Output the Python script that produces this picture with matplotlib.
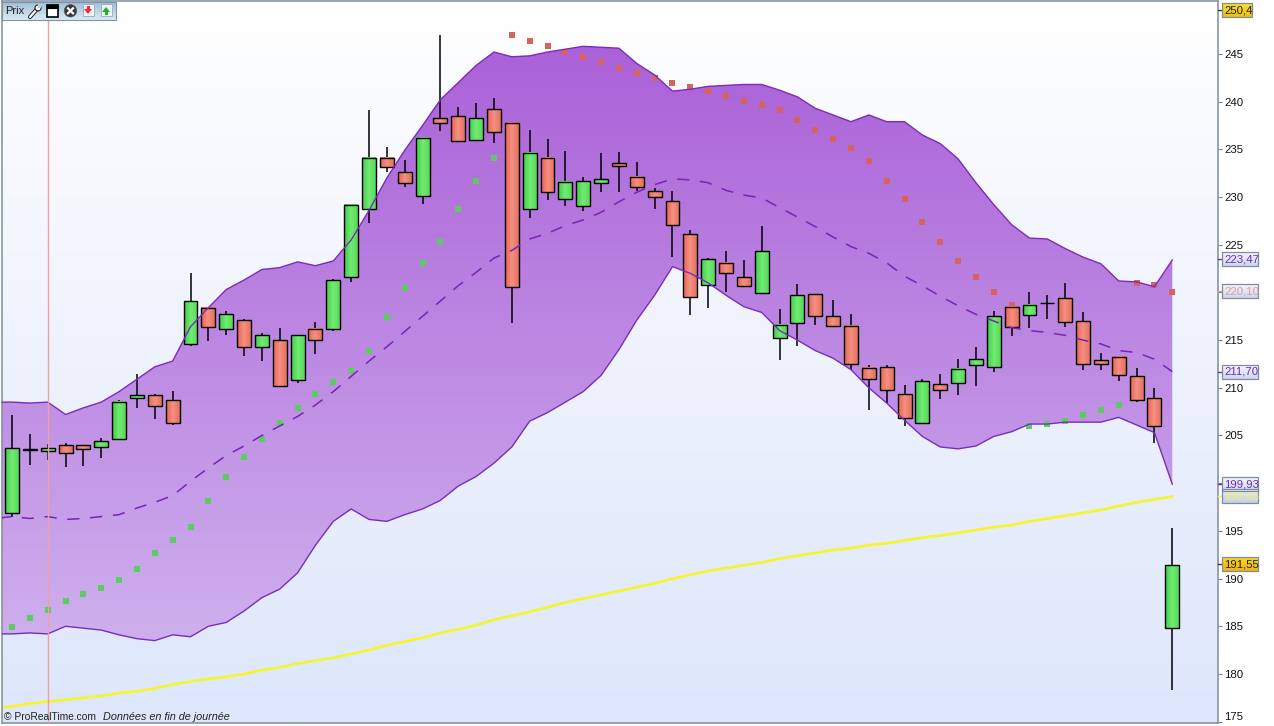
import numpy as np
import matplotlib
matplotlib.use("Agg")
import matplotlib.pyplot as plt
from matplotlib.colors import LinearSegmentedColormap
from matplotlib.patches import Rectangle, Circle, Polygon

plt.rcParams['font.family'] = ['Liberation Sans', 'DejaVu Sans']

# candles, one entry per session
opens = [196.9, 203.5, 203.4, 204.0, 204.0, 203.8, 204.6, 208.9, 209.2, 208.7, 214.6,
         218.4, 216.2, 217.1, 214.3, 215.0, 210.8, 216.2, 216.2, 221.6, 228.7, 234.1,
         232.6, 230.1, 238.3, 238.5, 236.0, 239.2, 237.8, 228.7, 234.1, 229.8, 229.1,
         231.5, 233.6, 232.1, 230.6, 229.6, 226.1, 220.8, 223.1, 221.6, 219.9, 215.2,
         216.8, 219.8, 217.5, 216.5, 212.1, 212.2, 209.3, 206.3, 210.4, 210.5, 212.4,
         212.2, 218.5, 217.6, 218.9, 219.4, 217.0, 212.9, 213.2, 211.2, 208.9, 184.8]
highs = [207.2, 205.2, 204.1, 204.2, 204.0, 204.7, 208.7, 211.4, 209.4, 209.7, 222.0,
         218.4, 218.1, 217.2, 215.7, 216.3, 215.5, 216.9, 221.4, 229.3, 239.1, 235.2,
         233.9, 236.3, 247.0, 239.4, 239.9, 240.4, 237.9, 237.0, 236.1, 234.8, 232.1,
         234.6, 234.7, 233.7, 230.9, 230.6, 226.5, 223.6, 224.3, 223.4, 227.0, 218.3,
         220.9, 219.8, 219.2, 217.7, 212.4, 212.4, 210.3, 210.9, 211.4, 213.0, 214.3,
         218.0, 218.5, 220.0, 219.7, 221.0, 217.9, 213.6, 213.2, 212.1, 210.0, 195.3]
lows = [196.5, 201.9, 202.4, 201.7, 201.8, 202.6, 204.6, 207.9, 206.7, 206.1, 214.4,
        214.9, 215.5, 213.3, 212.8, 210.2, 210.5, 213.5, 216.0, 221.1, 227.3, 232.6,
        231.0, 229.3, 236.9, 235.9, 235.9, 235.7, 216.8, 227.8, 229.7, 229.1, 228.5,
        230.5, 230.5, 230.6, 228.7, 223.7, 217.6, 218.4, 220.0, 220.6, 219.9, 212.9,
        214.4, 216.6, 216.4, 211.9, 207.7, 208.4, 206.0, 206.2, 208.8, 209.2, 210.2,
        211.7, 215.4, 216.3, 217.2, 216.4, 211.9, 211.9, 210.7, 208.5, 204.2, 178.3]
closes = [203.7, 203.6, 203.7, 203.2, 203.6, 204.4, 208.5, 209.2, 208.1, 206.3, 219.1,
          216.4, 217.7, 214.3, 215.5, 210.2, 215.5, 215.0, 221.3, 229.2, 234.1, 233.1,
          231.5, 236.2, 237.8, 235.9, 238.3, 236.8, 220.6, 234.6, 230.5, 231.6, 231.7,
          231.9, 233.3, 231.0, 230.0, 227.1, 219.5, 223.5, 222.0, 220.7, 224.3, 216.6,
          219.7, 217.5, 216.5, 212.5, 210.9, 209.8, 206.8, 210.7, 209.8, 212.0, 213.0,
          217.5, 216.4, 218.7, 218.9, 216.9, 212.5, 212.5, 211.3, 208.7, 206.0, 191.4]

# indicators start one session before the first candle
boll_upper = [208.5, 208.5, 208.4, 208.5, 207.2, 207.9, 208.5, 209.6, 210.9, 212.2, 212.8,
              216.4, 218.4, 220.3, 221.3, 222.4, 222.6, 223.2, 222.8, 223.3, 225.5, 228.6,
              232.0, 234.9, 237.5, 240.2, 242.0, 243.8, 245.2, 244.7, 244.8, 245.2, 245.5,
              245.8, 245.7, 245.6, 244.0, 242.8, 241.1, 241.3, 241.6, 241.7, 241.8, 241.8,
              241.2, 240.5, 239.3, 238.6, 237.9, 238.6, 237.9, 237.9, 236.5, 235.6, 234.0,
              231.5, 229.2, 227.1, 225.7, 225.6, 224.6, 223.7, 223.0, 221.2, 221.1, 220.6, 223.4]
boll_lower = [184.2, 184.2, 184.3, 184.2, 185.0, 184.8, 184.6, 184.1, 183.7, 183.5, 184.1,
              183.9, 185.0, 185.4, 186.6, 188.0, 188.9, 190.6, 193.5, 196.0, 197.3, 196.2,
              196.0, 196.7, 197.3, 198.2, 199.7, 200.7, 202.1, 203.8, 206.5, 207.4, 208.5,
              209.6, 211.3, 214.0, 217.1, 219.7, 222.7, 222.0, 221.0, 219.7, 218.5, 217.9,
              216.0, 215.0, 213.9, 213.1, 211.9, 210.0, 208.4, 206.6, 204.9, 203.8, 203.6,
              203.9, 204.9, 205.4, 206.2, 206.2, 206.4, 206.4, 206.4, 206.9, 206.1, 205.3, 199.9]
boll_mid = [196.3, 196.5, 196.3, 196.5, 196.2, 196.3, 196.5, 196.7, 197.4, 198.0, 198.7,
            200.2, 201.6, 202.9, 203.9, 205.0, 206.0, 207.0, 208.2, 209.6, 211.2, 212.8,
            214.3, 215.9, 217.5, 219.1, 220.7, 222.1, 223.6, 224.4, 225.6, 226.2, 227.0,
            227.6, 228.4, 229.5, 230.5, 231.3, 231.9, 231.8, 231.5, 230.7, 230.2, 229.9,
            228.9, 227.9, 226.9, 225.8, 224.8, 224.1, 223.1, 221.7, 220.7, 219.6, 218.6,
            217.7, 217.0, 216.3, 216.0, 215.8, 215.5, 215.0, 214.6, 213.9, 213.7, 213.0, 211.7]
ma_long = [176.4, 176.6, 176.9, 177.1, 177.3, 177.5, 177.7, 178.0, 178.2, 178.5, 178.9,
           179.2, 179.5, 179.7, 180.0, 180.4, 180.7, 181.1, 181.4, 181.7, 182.1, 182.5,
           183.0, 183.4, 183.8, 184.3, 184.7, 185.1, 185.7, 186.1, 186.5, 187.0, 187.5,
           187.9, 188.3, 188.7, 189.1, 189.5, 190.0, 190.4, 190.8, 191.1, 191.4, 191.7,
           192.1, 192.4, 192.7, 193.0, 193.2, 193.5, 193.7, 194.0, 194.3, 194.5, 194.8,
           195.1, 195.4, 195.6, 196.0, 196.3, 196.6, 196.9, 197.2, 197.6, 198.0, 198.3, 198.6]

# parabolic sar, rising and falling runs
sar_up_days = list(range(0, 28)) + list(range(57, 63))
sar_up = [184.9, 185.9, 186.7, 187.6, 188.4, 189.0, 189.9, 191.0, 192.7, 194.0, 195.4, 198.1,
          200.6, 202.7, 204.6, 206.3, 207.9, 209.4, 210.6, 211.8, 213.9, 217.4, 220.5, 223.1,
          225.3, 228.7, 231.7, 234.1,
          206.0, 206.2, 206.5, 207.1, 207.7, 208.2]
sar_down_days = list(range(28, 57)) + list(range(63, 66))
sar_down = [247.0, 246.4, 245.8, 245.2, 244.7, 244.2, 243.5, 243.0, 242.5, 242.0, 241.5, 241.1,
            240.6, 240.1, 239.6, 239.1, 238.1, 237.0, 236.1, 235.1, 233.8, 231.7, 229.8, 227.4,
            225.3, 223.3, 221.6, 220.0, 218.7,
            221.0, 220.8, 220.0]

y_ticks = list(range(175, 250, 5))
# these ticks have their number hidden behind a value tag or moved
no_label_ticks = [175, 200, 220]
# text, level on the price scale, text colour, box gradient, right edge of the box
tag_texts = ['250,4', '223,47', '220,10', '211,70', '199,93', '198,66', '191,55']
tag_levels = [249.6, 223.47, 220.10, 211.70, 199.93, 198.66, 191.55]
tag_colors = ['#222222', '#6a2cc0', '#e39a9a', '#6a2cc0', '#6a2cc0', '#f2f26a', '#222222']
tag_boxes = [('#f8e030', '#eec010'), ('#f4f6fc', '#cdd7ee'), ('#f4f6fc', '#cdd7ee'),
             ('#f4f6fc', '#cdd7ee'), ('#f4f6fc', '#cdd7ee'), ('#e8ecf8', '#c4cfe8'),
             ('#f8d830', '#eeb410')]
tag_right = [1252, 1258, 1258, 1258, 1258, 1258, 1258]

W, H = 1274, 726
fig = plt.figure(figsize=(W / 100, H / 100), dpi=100, facecolor='white')
ax = fig.add_axes([2 / W, (H - 723) / H, 1216 / W, 722 / H])

xmin, xmax = -0.56, 67.56
ymin, ymax = 174.86, 250.55
grad = np.linspace(0, 1, 256).reshape(-1, 1)
full = [xmin, xmax, ymin, ymax]

bg_cmap = LinearSegmentedColormap.from_list('bg', ['#dde6fb', '#eef2fd', '#ffffff'])
ax.imshow(grad, extent=full, origin='lower', aspect='auto', cmap=bg_cmap, zorder=0)

days = np.arange(-1, 66)
band = ax.fill_between(days, boll_lower, boll_upper, facecolor='none', edgecolor='none')
band_cmap = LinearSegmentedColormap.from_list('band', ['#d3baf0', '#a85bd6'])
band_im = ax.imshow(grad, extent=full, origin='lower', aspect='auto', cmap=band_cmap, zorder=1)
band_im.set_clip_path(band.get_paths()[0], transform=ax.transData)

ax.plot(days, ma_long, color='#f5f52a', lw=1.9, zorder=2)

green_cmap = LinearSegmentedColormap.from_list('g', ['#3ecb4c', '#72ec72', '#58d85c'])
red_cmap = LinearSegmentedColormap.from_list('r', ['#ec625a', '#f4917f', '#e66e66'])
bar = np.linspace(0, 1, 32).reshape(1, -1)

ax.scatter(sar_up_days, sar_up, marker='s', s=15, color='#5ccb62', lw=0, zorder=3)
ax.scatter(sar_down_days, sar_down, marker='s', s=15, color='#d5645e', lw=0, zorder=3)

for i in range(len(opens)):
    top, bot = max(opens[i], closes[i]), min(opens[i], closes[i])
    ax.plot([i, i], [lows[i], highs[i]], color='black', lw=1.1, zorder=4, solid_capstyle='butt')
    cmap = green_cmap if closes[i] >= opens[i] else red_cmap
    ax.imshow(bar, extent=[i - 0.39, i + 0.39, bot, top], aspect='auto', cmap=cmap, zorder=5)
    ax.add_patch(Rectangle((i - 0.39, bot), 0.78, top - bot, fc='none', ec='black', lw=1.0, zorder=6))

ax.plot(days, boll_upper, color='#7a2cbc', lw=1, zorder=7)
ax.plot(days, boll_lower, color='#7a2cbc', lw=1, zorder=7)
ax.plot(days, boll_mid, color='#7a22b8', lw=1.1, linestyle=(0, (8, 7)), zorder=7)

ax.axvline(2.03, color='#f0a0a0', lw=1, zorder=8)

ax.set_xlim(xmin, xmax)
ax.set_ylim(ymin, ymax)
ax.set_xticks([])
ax.yaxis.tick_right()
ax.set_yticks(y_ticks)
ax.set_yticklabels(['' if t in no_label_ticks else str(t) for t in y_ticks])
ax.tick_params(axis='y', length=3, width=0.8, color='#6f8090', labelsize=8.2, pad=1.3, labelcolor='#111111')
for s in ax.spines.values():
    s.set_color('#7d8e9c')
    s.set_linewidth(1.1)

ytrans = ax.get_yaxis_transform()
ax.annotate('175', xy=(1, 175), xycoords=ytrans, xytext=(4.3, 3.5), textcoords='offset points',
            va='center', ha='left', fontsize=8.2, color='#111111', annotation_clip=False)

# toolbar, tags and footer sit on the window, so they use pixel coordinates
ui = fig.add_axes([0, 0, 1, 1], facecolor='none')
ui.set_xlim(0, W)
ui.set_ylim(H, 0)
ui.axis('off')

small = np.linspace(0, 1, 32).reshape(-1, 1)
for txt, lev, col, box, right in zip(tag_texts, tag_levels, tag_colors, tag_boxes, tag_right):
    py = H - ax.transData.transform((0, lev))[1]
    ui.plot([1218, 1222], [py, py], color=col if col != '#222222' else '#333333', lw=1, zorder=2)
    ui.imshow(small, extent=[1222, right, py + 7, py - 7], origin='upper', aspect='auto',
              cmap=LinearSegmentedColormap.from_list('tag', box), zorder=2)
    ui.add_patch(Rectangle((1222, py - 7), right - 1222, 14, fc='none', ec='#7f8c9c', lw=0.9, zorder=3))
    ui.text(1224, py + 0.3, txt, fontsize=8.2, color=col, va='center', ha='left', zorder=4)

tb_cmap = LinearSegmentedColormap.from_list('tb', ['#9fc0d8', '#dbe9f2'])
ui.imshow(small, extent=[2, 116, 20, 2], origin='upper', aspect='auto', cmap=tb_cmap, zorder=1)
ui.add_patch(Rectangle((2, 2), 114, 18, fc='none', ec='#7d93a8', lw=0.8, zorder=2))
ui.text(5, 10.5, 'Prix', fontsize=8, color='#222222', va='center', ha='left', zorder=3)

# wrench
ui.plot([30, 37], [17, 9], color='#222222', lw=3, solid_capstyle='round', zorder=3)
ui.plot([30, 37], [17, 9], color='white', lw=1.6, solid_capstyle='round', zorder=3)
ui.add_patch(Circle((38, 8), 3, fc='white', ec='#222222', lw=0.8, zorder=3))
ui.add_patch(Rectangle((38, 3.5), 3, 4, fc='#b8d0e0', ec='none', zorder=3))
# window
ui.add_patch(Rectangle((46.5, 5), 11.5, 11.5, fc='white', ec='black', lw=1.2, zorder=3))
ui.add_patch(Rectangle((46.5, 5), 11.5, 3, fc='black', ec='black', lw=0.8, zorder=3))
# close button
ui.add_patch(Circle((70.5, 10.8), 6.2, fc='#3a3a3a', ec='#555555', lw=0.5, zorder=3))
ui.plot([68, 73], [8.3, 13.3], color='white', lw=1.6, zorder=4)
ui.plot([68, 73], [13.3, 8.3], color='white', lw=1.6, zorder=4)
# import and export sheets
for cx, col, pts in [(88, '#ee3030', [(84, 9), (92, 9), (88, 14)]),
                     (106, '#20b020', [(102, 12), (110, 12), (106, 7)])]:
    ui.add_patch(Rectangle((cx - 5.5, 4), 11, 12, fc='#eef4fa', ec='#9aaabb', lw=0.6, zorder=3))
    ui.add_patch(Polygon(pts, fc=col, ec='none', zorder=4))
    stem_y = (6, 9) if cx == 88 else (12, 15)
    ui.add_patch(Rectangle((cx - 1.5, stem_y[0]), 3, stem_y[1] - stem_y[0], fc=col, ec='none', zorder=4))

ui.text(4, 717, '© ProRealTime.com', fontsize=7.4, color='#222222', va='center', ha='left', zorder=3)
ui.text(103, 717, 'Données en fin de journée', fontsize=7.8, style='italic', color='#222222',
        va='center', ha='left', zorder=3)

ui.set_xlim(0, W)
ui.set_ylim(H, 0)

fig.savefig('out.png', dpi=100)
